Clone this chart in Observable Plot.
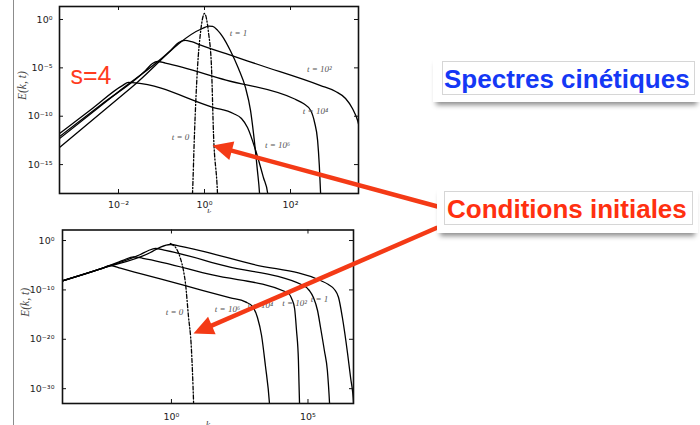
<!DOCTYPE html>
<html><head><meta charset="utf-8">
<script src="https://cdn.jsdelivr.net/npm/d3@7"></script>
<script src="https://cdn.jsdelivr.net/npm/@observablehq/plot@0.6"></script>
<style>
html,body{margin:0;padding:0;background:#fff;}
#slide{position:relative;width:700px;height:425px;overflow:hidden;background:#fff;font-family:"Liberation Sans",Arial,sans-serif;}
.abs{position:absolute;}
.abs svg{display:block;}
#border{position:absolute;left:12.5px;top:0;width:1.4px;height:425px;background:#8c8c8c;}
.box{position:absolute;background:#fff;box-shadow:0 6px 5px -3px rgba(0,0,0,0.45);}
.inner{position:absolute;border:1px solid #d6d6d6;}
.label{position:absolute;font-weight:bold;font-size:26px;white-space:nowrap;line-height:26px;}
</style></head><body>
<div id="slide">
  <div id="border"></div>
  <div id="p1" class="abs" style="left:0;top:0;width:360px;height:213px"></div>
  <div id="p2" class="abs" style="left:0;top:215px;width:360px;height:210px"></div>
  <div id="ov" class="abs" style="left:0;top:0;width:700px;height:425px"></div>
  <div class="box" style="left:433px;top:55px;width:267px;height:47px"><div class="inner" style="left:9px;top:6px;width:251px;height:32px"></div></div>
  <div class="label" style="left:444px;top:66px;color:#1438f5">Spectres cinétiques</div>
  <div class="box" style="left:437px;top:185px;width:261px;height:48px"><div class="inner" style="left:7px;top:6px;width:247px;height:32px"></div></div>
  <div class="label" style="left:447px;top:196px;color:#ff3010">Conditions initiales</div>
</div>
<script>
// ---------- DATA (log10 k, log10 E) ----------
// Top panel (s = 4)
const top_t0 = [[-0.30,-20],[-0.279,-18.0],[-0.233,-11.8],[-0.163,-5.0],[-0.093,-1.35],[0,0.62],[0.093,-1.35],[0.163,-5.0],[0.209,-11.8],[0.302,-18.0],[0.32,-20]];
const top_t1 = [[-3.40,-13.34],[-1.70,-7.03],[-0.05,-0.93],[0.10,-0.68],[0.19,-0.72],[0.30,-1.1],[0.42,-1.76],[0.60,-3.2],[0.79,-5.07],[0.95,-7.0],[1.07,-9.4],[1.14,-11.8],[1.23,-15.6],[1.28,-18.0],[1.31,-20.5]];
const top_t2 = [[-3.40,-12.41],[-2.0,-7.47],[-0.79,-3.2],[-0.60,-2.38],[-0.45,-2.15],[-0.30,-2.3],[-0.09,-2.65],[0.67,-3.79],[1.3,-4.73],[2.70,-6.83],[3.05,-7.45],[3.28,-8.17],[3.44,-9.2],[3.56,-10.44],[3.67,-12.5]];
const top_t4 = [[-3.40,-12.2],[-2.4,-8.79],[-1.37,-5.27],[-1.21,-4.55],[-1.09,-4.34],[-0.91,-4.5],[0.5,-6.26],[2.07,-8.17],[2.30,-8.69],[2.47,-9.41],[2.56,-10.65],[2.63,-12.5],[2.67,-15.1],[2.70,-18.0],[2.72,-20.3]];
const top_t6 = [[-3.40,-11.89],[-2.6,-9.17],[-1.91,-6.83],[-1.77,-6.51],[-1.60,-6.55],[0.21,-9.10],[0.67,-9.72],[0.86,-10.24],[1.0,-11.17],[1.19,-13.55],[1.37,-16.34],[1.47,-18.0],[1.49,-20.3]];
const top_labels = [["t = 1",0.79,-1.45],["t = 10²",2.67,-5.17],["t = 10⁴",2.58,-9.51],["t = 10⁶",1.70,-13.03],["t = 0",-0.56,-12.2]];
const top_xticks = [1e-2, 1, 1e2];
const top_yticks = [1, 1e-5, 1e-10, 1e-15];

// Bottom panel
const low_t0 = [[-0.04,-0.61],[0.18,-1.62],[0.33,-3.64],[0.44,-6.07],[0.51,-8.50],[0.62,-15.18],[0.73,-21.86],[0.81,-32.79],[0.83,-36.5]];
const low_t6 = [[-4.1,-8.35],[-2.60,-5.76],[-2.23,-5.06],[-1.87,-5.61],[-1.14,-6.70],[0.44,-9.05],[2.16,-11.62],[2.71,-12.43],[2.97,-13.36],[3.15,-15.59],[3.30,-19.23],[3.44,-25.3],[3.59,-33.0],[3.63,-36.5]];
const low_t4 = [[-4.1,-8.35],[-2.6,-5.76],[-1.75,-3.95],[-1.39,-3.30],[-1.05,-3.60],[1.5,-6.98],[4.25,-10.53],[4.40,-11.74],[4.51,-13.77],[4.58,-18.22],[4.65,-24.29],[4.69,-33.0],[4.73,-36.4]];
const low_t2 = [[-4.1,-8.35],[-2.6,-5.76],[-1.14,-2.83],[-0.84,-2.02],[-0.59,-1.62],[-0.22,-2.0],[2.0,-5.19],[4.84,-9.11],[5.05,-10.12],[5.20,-11.54],[5.35,-14.17],[5.46,-17.61],[5.60,-22.27],[5.71,-26.32],[5.79,-33.0],[5.82,-36.4]];
const low_t1 = [[-4.1,-8.35],[-2.6,-5.76],[-0.77,-2.43],[-0.40,-1.32],[-0.04,-0.81],[0.35,-1.2],[3.0,-4.84],[5.46,-8.10],[5.75,-8.91],[5.97,-9.92],[6.12,-11.54],[6.26,-15.59],[6.45,-22.87],[6.56,-27.73],[6.67,-33.0],[6.70,-36.4]];
const low_labels = [["t = 0",0.11,-14.57],["t = 10⁶",2.05,-13.97],["t = 10⁴",3.26,-13.16],["t = 10²",4.51,-12.75],["t = 1",5.42,-11.94]];
const low_xticks = [1, 1e5];
const low_yticks = [1, 1e-10, 1e-20, 1e-30];

// Annotation arrows (slide pixel coordinates): tail at the box, tip in the plot
const arrowTail = [[437,206],[437,227]];
const arrowTip  = [[212,145],[193,333]];

// ---------- helpers ----------
const SUP = {"-":"⁻","0":"⁰","1":"¹","2":"²","3":"³","4":"⁴","5":"⁵","6":"⁶","7":"⁷","8":"⁸","9":"⁹"};
const sup = n => String(n).split("").map(c => SUP[c]).join("");
const pow10 = d => "10" + sup(Math.round(Math.log10(d)));
const toPts = (arr, id) => arr.map(([a, b]) => ({k: 10 ** a, E: 10 ** b, id}));
const RED = "#f43a16";
const TICKFONT = "'DejaVu Sans', 'Liberation Sans', sans-serif";

function panel(cfg) {
  const innerW = cfg.width - cfg.ml - cfg.mr;
  const innerH = cfg.height - cfg.mt - cfg.mb;
  const solid = cfg.solids.flatMap((a, i) => toPts(a, i));
  const dash = toPts(cfg.dashed, "d");
  const tickStyle = {stroke: "#111", strokeWidth: 1};
  const marks = [
    Plot.line(solid, {x: "k", y: "E", z: "id", curve: "monotone-x", stroke: "#000", strokeWidth: 1.3, clip: true}),
    Plot.line(dash, {x: "k", y: "E", curve: "monotone-x", stroke: "#000", strokeWidth: 1.3, strokeDasharray: "4,2,1.2,2", clip: true}),
    Plot.frame({stroke: "#111", strokeWidth: 1.6}),
    Plot.tickX(cfg.xt, {x: d => d, insetTop: innerH - 4, ...tickStyle}),
    Plot.tickX(cfg.xt, {x: d => d, insetBottom: innerH - 4, ...tickStyle}),
    Plot.tickY(cfg.yt, {y: d => d, insetRight: innerW - 4, ...tickStyle}),
    Plot.tickY(cfg.yt, {y: d => d, insetLeft: innerW - 4, ...tickStyle}),
    Plot.axisX({ticks: cfg.xt, tickSize: 0, tickPadding: cfg.xpad, tickFormat: pow10, label: null, fill: "#222", fontFamily: TICKFONT, fontSize: 9.5}),
    Plot.axisY({ticks: cfg.yt, tickSize: 0, tickPadding: cfg.ypad, tickFormat: pow10, label: null, fill: "#222", fontFamily: TICKFONT, fontSize: 9.5}),
    Plot.text(cfg.labels, {x: d => 10 ** d[1], y: d => 10 ** d[2], text: d => d[0], fontFamily: "'Liberation Serif', serif", fontStyle: "italic", fontSize: 9, fill: "#555"}),
    Plot.text(["E(k, t)"], {text: d => d, frameAnchor: "left", dx: -37, rotate: -90, fontFamily: "'Liberation Serif', serif", fontStyle: "italic", fontSize: 11.5, fill: "#444"}),
    Plot.text(["k"], {text: d => d, frameAnchor: "bottom", dy: cfg.kdy, fontFamily: "'Liberation Serif', serif", fontStyle: "italic", fontSize: 10, fill: "#444"})
  ];
  if (cfg.extra) marks.push(...cfg.extra);
  return Plot.plot({
    width: cfg.width, height: cfg.height,
    marginLeft: cfg.ml, marginRight: cfg.mr, marginTop: cfg.mt, marginBottom: cfg.mb,
    style: {fontFamily: "'Liberation Sans', Arial, sans-serif", fontSize: "10px", background: "transparent"},
    x: {type: "log", domain: cfg.xdom, label: null, axis: null},
    y: {type: "log", domain: cfg.ydom, label: null, axis: null},
    marks
  });
}

const p1 = panel({
  width: 360, height: 213, ml: 59, mr: 2, mt: 6, mb: 20,
  xdom: [10 ** -3.372, 10 ** 3.581], ydom: [10 ** -17.99, 10 ** 1.344],
  xt: top_xticks, yt: top_yticks, xpad: 8, ypad: 7, kdy: 22,
  solids: [top_t1, top_t2, top_t4, top_t6], dashed: top_t0, labels: top_labels,
  extra: [Plot.text(["s=4"], {text: d => d, frameAnchor: "top-left", textAnchor: "start", lineAnchor: "bottom", dx: 11, dy: 77, fontSize: 25, fill: "#ff3b1d", fontFamily: "'Liberation Sans', Arial, sans-serif"})]
});
document.getElementById("p1").append(p1);

const p2 = panel({
  width: 360, height: 210, ml: 62, mr: 7, mt: 14.5, mb: 22,
  xdom: [10 ** -3.99, 10 ** 6.667], ydom: [10 ** -33.0, 10 ** 2.13],
  xt: low_xticks, yt: low_yticks, xpad: 10, ypad: 8, kdy: 24,
  solids: [low_t1, low_t2, low_t4, low_t6], dashed: low_t0, labels: low_labels
});
document.getElementById("p2").append(p2);

// ---------- arrows overlay ----------
const HEAD_L = 20, HEAD_W = 19;
const arrows = arrowTail.map((t, i) => {
  const p = arrowTip[i];
  const dx = t[0] - p[0], dy = t[1] - p[1];
  const n = Math.hypot(dx, dy), ux = dx / n, uy = dy / n;
  return {tail: t, tip: p, base: [p[0] + ux * HEAD_L * 0.8, p[1] + uy * HEAD_L * 0.8], angle: Math.atan2(-ux, uy) * 180 / Math.PI};
});
const headSymbol = {draw(ctx) { ctx.moveTo(0, 0); ctx.lineTo(-HEAD_W / 2, HEAD_L); ctx.lineTo(HEAD_W / 2, HEAD_L); ctx.closePath(); }};
const ov = Plot.plot({
  width: 700, height: 425, margin: 0,
  style: {background: "transparent"},
  x: {domain: [0, 700], range: [0, 700], axis: null},
  y: {domain: [0, 425], range: [0, 425], axis: null},
  marks: [
    Plot.link(arrows, {x1: d => d.tail[0], y1: d => d.tail[1], x2: d => d.base[0], y2: d => d.base[1], stroke: RED, strokeWidth: 4.5}),
    Plot.dot(arrows, {x: d => d.tip[0], y: d => d.tip[1], r: 5, symbol: headSymbol, rotate: d => d.angle, fill: RED, stroke: "none"})
  ]
});
document.getElementById("ov").append(ov);
</script>
</body></html>
